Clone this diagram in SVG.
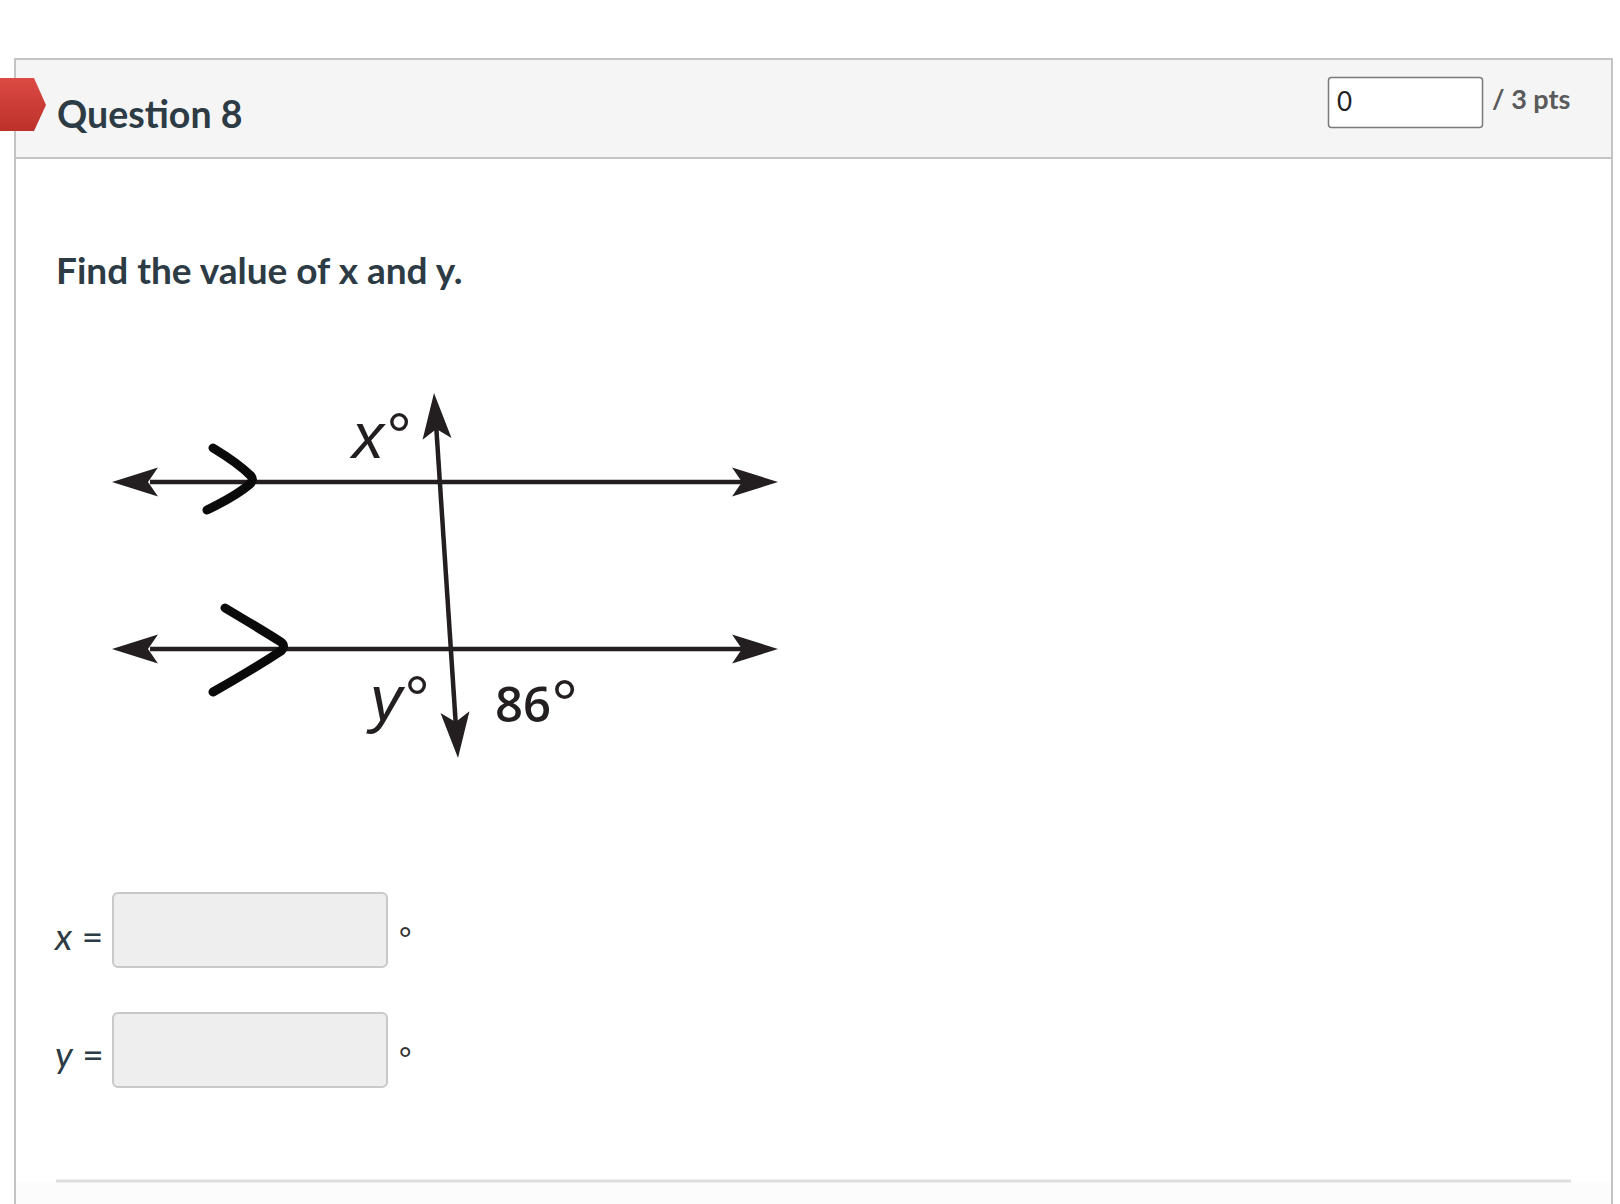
<svg xmlns="http://www.w3.org/2000/svg" width="1620" height="1204" viewBox="0 0 1620 1204">
  <defs>
    <linearGradient id="tagGrad" x1="0" y1="0" x2="0" y2="1">
      <stop offset="0" stop-color="#dc4a43"/>
      <stop offset="1" stop-color="#bd302b"/>
    </linearGradient>
    <path id="ah" d="M0,0 L-46,-14.5 L-36,0 L-46,14.5 Z"/>
  </defs>
  <style>
    .ui { font-family: Lato, "Liberation Sans", sans-serif; fill: #2d3b45; }
    .title { font-weight: 700; }
    .fig { stroke: #231f20; stroke-width: 4.5; fill: none; }
    .chev { stroke: #0a0a0a; stroke-width: 9; fill: none; stroke-linecap: round; stroke-linejoin: round; }
    .ahead { fill: #231f20; }
    .lbl { font-family: "Liberation Sans", Arimo, sans-serif; fill: #231f20; }
    .inp { fill: #eeeeee; stroke: #c9c9c9; stroke-width: 2; }
  </style>

  <rect x="0" y="0" width="1620" height="1204" fill="#ffffff"/>

  <!-- Panel -->
  <g id="panel">
    <rect x="15" y="59" width="1597" height="99" fill="#f5f5f5"/>
    <rect x="15" y="1182" width="1597" height="22" fill="#fcfcfc"/>
    <line x1="15" y1="59" x2="1612" y2="59" stroke="#c4c4c4" stroke-width="2"/>
    <line x1="15" y1="158" x2="1612" y2="158" stroke="#c4c4c4" stroke-width="2"/>
    <line x1="15" y1="58" x2="15" y2="1204" stroke="#c4c4c4" stroke-width="2"/>
    <line x1="1612" y1="58" x2="1612" y2="1204" stroke="#c4c4c4" stroke-width="2"/>
    <line x1="56" y1="1181" x2="1571" y2="1181" stroke="#dddddd" stroke-width="3"/>
  </g>

  <g id="tag">
    <polygon points="0,78 34,78 46,105 34,131 0,131" fill="url(#tagGrad)"/>
  </g>

  <g id="header">
    <text class="ui title" x="57" y="128" font-size="37.5">Question 8</text>
  </g>

  <g id="score">
    <rect x="1328.5" y="77.5" width="154" height="50" rx="3" fill="#ffffff" stroke="#7a7a7a" stroke-width="1.5"/>
    <text x="1337" y="111" font-family="Lato, 'Liberation Sans', sans-serif" font-size="26" fill="#222">0</text>
    <text x="1492" y="109" font-family="Lato, 'Liberation Sans', sans-serif" font-size="27" font-weight="700" fill="#5a5a5a">/ 3 pts</text>
  </g>

  <g id="question">
    <text class="ui title" x="56" y="284" font-size="37">Find the value of x and y.</text>
  </g>

  <!-- Figure -->
  <g id="connectors">
    <line class="fig" x1="150" y1="482" x2="742" y2="482"/>
    <line class="fig" x1="150" y1="649" x2="742" y2="649"/>
    <line class="fig" x1="436.3" y1="428" x2="455.7" y2="723"/>
    <use href="#ah" class="ahead" transform="translate(778,482)"/>
    <use href="#ah" class="ahead" transform="translate(112,482) rotate(180)"/>
    <use href="#ah" class="ahead" transform="translate(778,649)"/>
    <use href="#ah" class="ahead" transform="translate(112,649) rotate(180)"/>
    <use href="#ah" class="ahead" transform="translate(434,393) rotate(-93.76)"/>
    <use href="#ah" class="ahead" transform="translate(458,758) rotate(86.24)"/>
  </g>

  <g id="parallel-marks">
    <path class="chev" d="M213,448 Q238,463 251,476 Q254,480 250,484 Q236,496 207,510"/>
    <path class="chev" d="M225,608 Q262,630 281,642 Q286,646 281,651 Q252,670 213,692"/>
  </g>

  <g id="labels">
    <text class="lbl" x="352" y="458" font-size="64" font-style="italic">x°</text>
    <text class="lbl" x="370" y="721" font-size="64" font-style="italic">y°</text>
    <text x="495" y="722" font-family="'Open Sans', 'Liberation Sans', sans-serif" font-weight="600" font-size="49" fill="#231f20">86<tspan font-family="'Liberation Sans', sans-serif" font-weight="400" font-size="68" dy="6">°</tspan></text>
  </g>

  <!-- Answers -->
  <g id="answer-x">
    <text class="ui" x="55" y="950" font-size="37"><tspan font-style="italic">x</tspan> =</text>
    <rect class="inp" x="113" y="893" width="274" height="74" rx="5"/>
    <text x="399" y="950" font-family="Lato, 'Liberation Sans', sans-serif" font-size="30" fill="#333">°</text>
  </g>
  <g id="answer-y">
    <text class="ui" x="55" y="1068" font-size="37"><tspan font-style="italic">y</tspan> =</text>
    <rect class="inp" x="113" y="1013" width="274" height="74" rx="5"/>
    <text x="399" y="1070" font-family="Lato, 'Liberation Sans', sans-serif" font-size="30" fill="#333">°</text>
  </g>
</svg>
